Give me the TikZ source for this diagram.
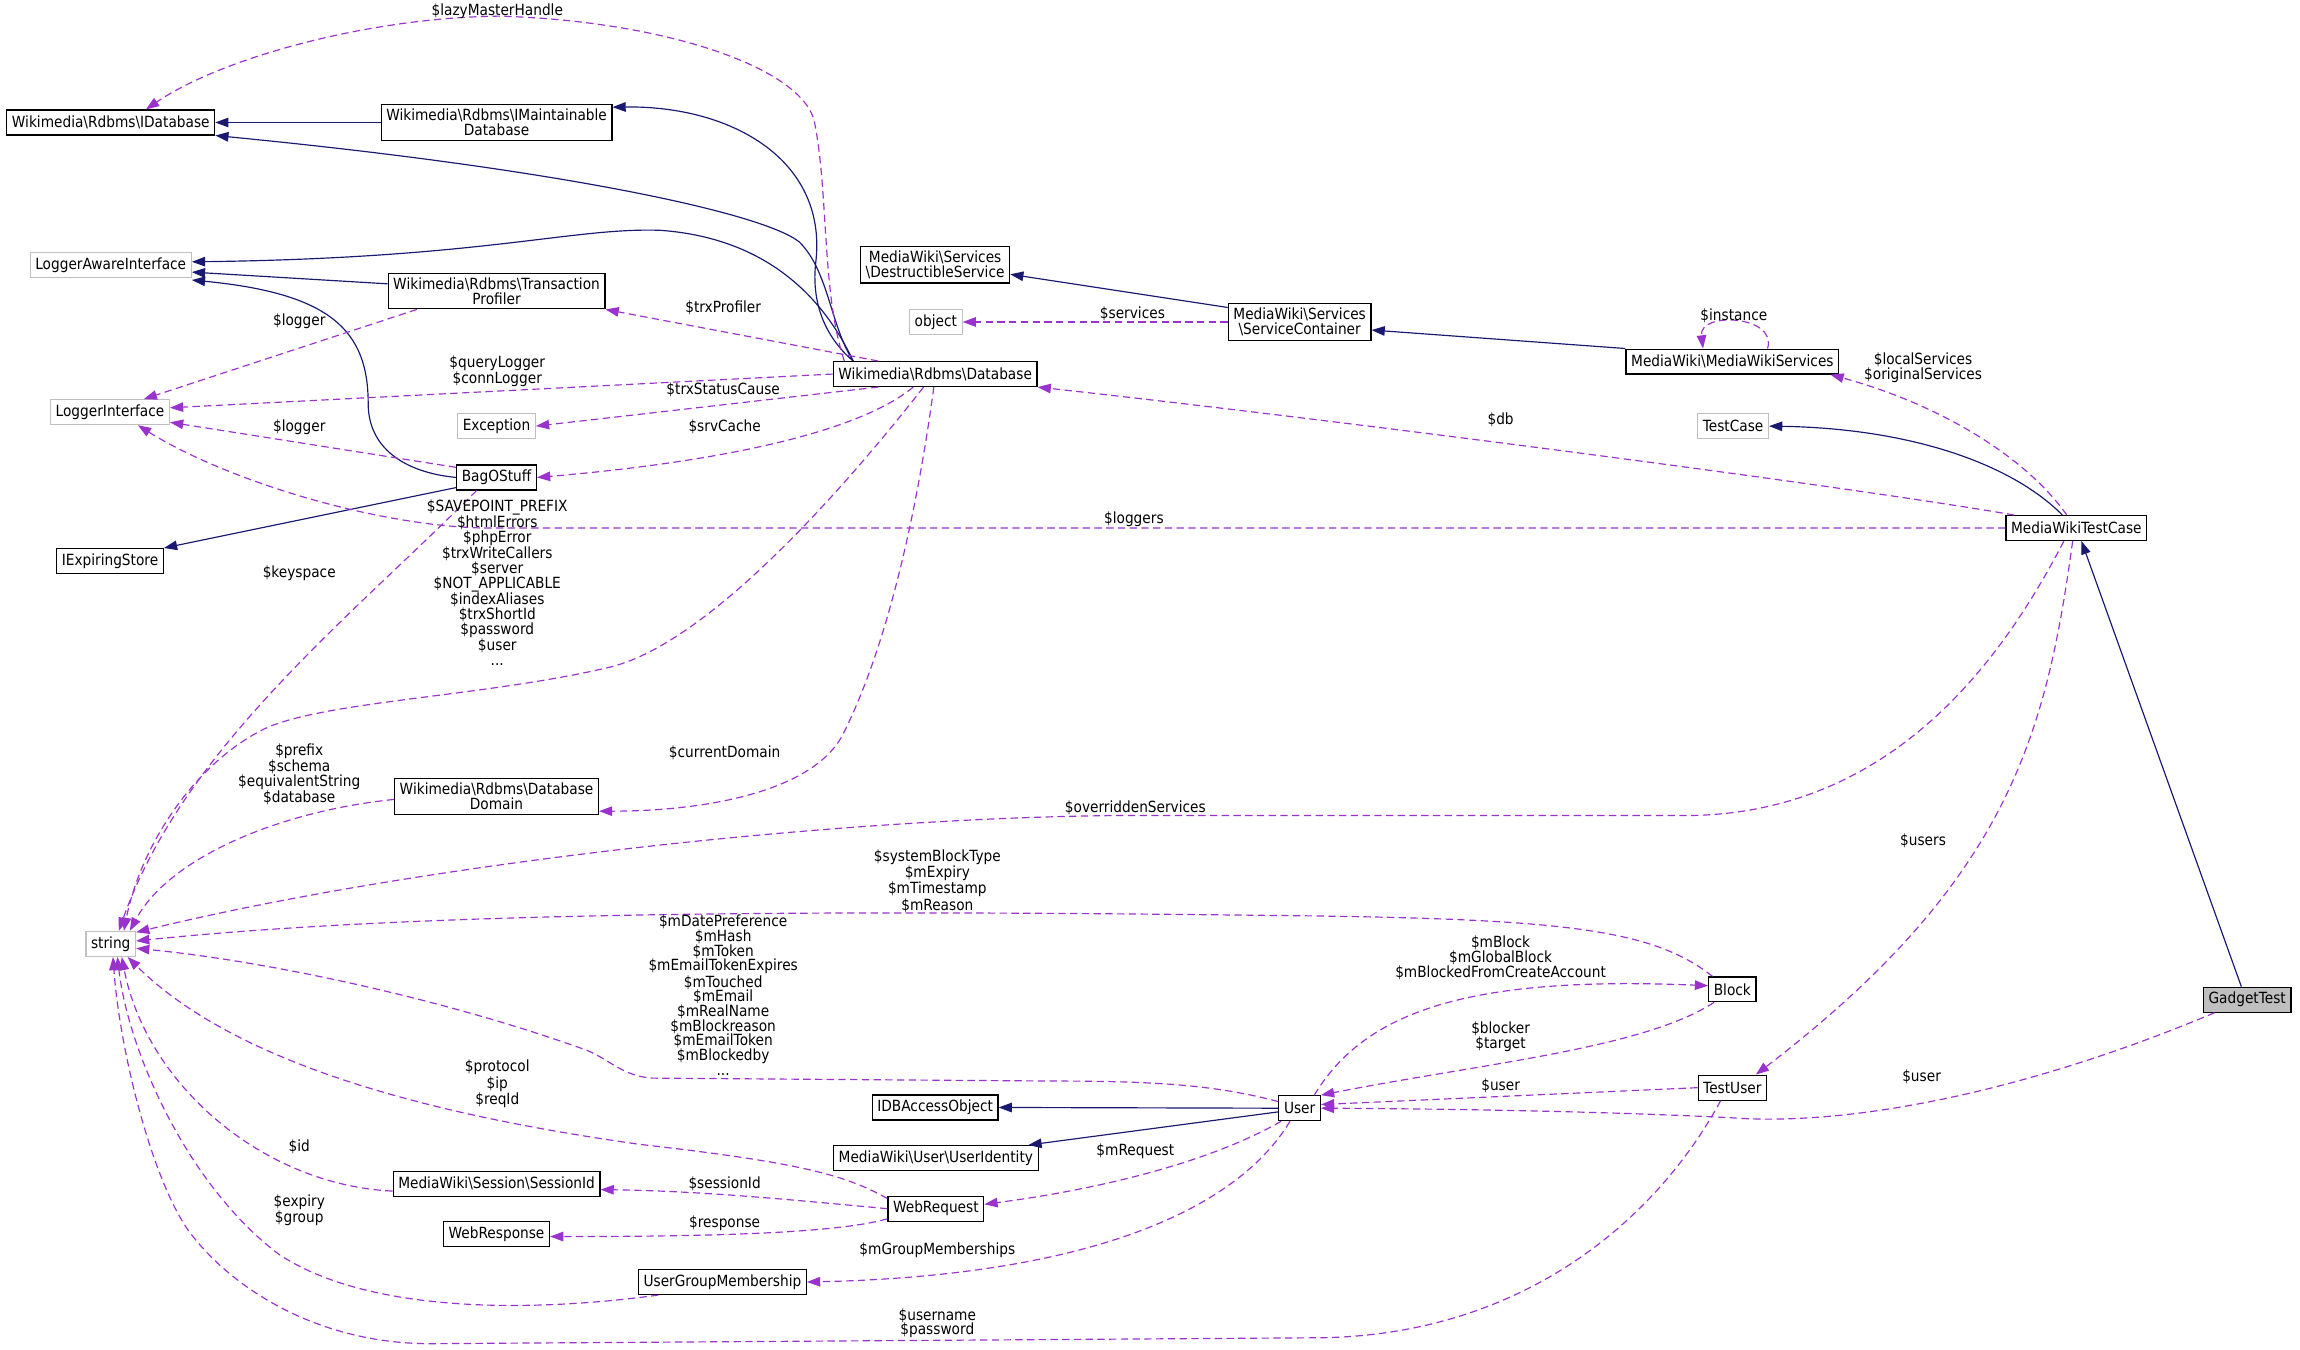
\documentclass[tikz,border=0pt]{standalone}
\usepackage{fontspec}
\setmainfont{DejaVu Sans}[FakeStretch=0.89]
\usetikzlibrary{arrows.meta}

\definecolor{inhblue}{HTML}{191970}
\definecolor{usepurple}{HTML}{9A32CD}
\definecolor{extgray}{HTML}{BFBFBF}

\newcommand{\bsl}{\textbackslash}

\tikzset{
  cls/.style={draw=black, fill=white, line width=0.8pt, inner xsep=3.5pt, inner ysep=3pt, minimum height=17pt, align=center},
  extcls/.style={cls, draw=extgray},
  focus/.style={cls, fill=extgray},
  lbl/.style={inner sep=0pt, align=center},
  inh/.style={draw=inhblue, line width=0.8pt, -{Triangle[length=9pt,width=6.5pt]}},
  uses/.style={draw=usepurple, line width=0.8pt, dash pattern=on 5pt off 3pt, -{Triangle[length=9pt,width=6.5pt]}}
}

\begin{document}
\begin{tikzpicture}[x=1pt,y=-1pt,font=\fontsize{10.5pt}{10pt}\selectfont]
\useasboundingbox (0,0) rectangle (1568,920);

% Classes
\node[cls] (idatabase) at (75.5,83.5) {Wikimedia\bsl Rdbms\bsl IDatabase};
\node[cls] (imaint) at (338.5,83.5) {Wikimedia\bsl Rdbms\bsl IMaintainable\\Database};
\node[extcls] (loggeraware) at (75.5,180.5) {LoggerAwareInterface};
\node[cls] (trxprofiler) at (338.5,198.5) {Wikimedia\bsl Rdbms\bsl Transaction\\Profiler};
\node[extcls] (loggeriface) at (75,281) {LoggerInterface};
\node[extcls] (exception) at (338.5,290.5) {Exception};
\node[cls] (bagostuff) at (338.5,325.5) {BagOStuff};
\node[cls] (iexpiring) at (75,382.5) {IExpiringStore};
\node[cls] (destructible) at (637.5,180.5) {MediaWiki\bsl Services\\\bsl DestructibleService};
\node[extcls] (object) at (638,219.5) {object};
\node[cls] (servicecont) at (886,219.5) {MediaWiki\bsl Services\\\bsl ServiceContainer};
\node[cls] (database) at (637.5,255) {Wikimedia\bsl Rdbms\bsl Database};
\node[cls] (mwservices) at (1181,246.5) {MediaWiki\bsl MediaWikiServices};
\node[extcls] (testcase) at (1181.5,290.5) {TestCase};
\node[cls] (mwtestcase) at (1415.5,360) {MediaWikiTestCase};
\node[cls] (dbdomain) at (338.5,543) {Wikimedia\bsl Rdbms\bsl Database\\Domain};
\node[extcls] (string) at (75.5,643.5) {string};
\node[cls] (block) at (1181,674.5) {Block};
\node[focus] (gadgettest) at (1532,681.5) {GadgetTest};
\node[cls] (idbaccess) at (637.5,755) {IDBAccessObject};
\node[cls] (user) at (886,755.5) {User};
\node[cls] (testuser) at (1181,741.5) {TestUser};
\node[cls] (useridentity) at (638,789.5) {MediaWiki\bsl User\bsl UserIdentity};
\node[cls] (sessionid) at (338.5,807) {MediaWiki\bsl Session\bsl SessionId};
\node[cls] (webrequest) at (638,824) {WebRequest};
\node[cls] (webresponse) at (338.5,841.5) {WebResponse};
\node[cls] (ugm) at (492.5,874) {UserGroupMembership};

% Inheritance
\draw[inh] (imaint.west) -- (idatabase.east);
\draw[inh] ([xshift=14pt]database.north west) .. controls (566,222) and (565,185) .. (545,165)
  .. controls (520,145) and (380,115) .. (idatabase.south east);
\draw[inh] ([xshift=14pt]database.north west) .. controls (565,232) and (553,210) .. (556,180)
  .. controls (565,110) and (500,72) .. ([yshift=-2pt]imaint.north east);
\draw[inh] ([xshift=14pt]database.north west) .. controls (560,200) and (520,162) .. (450,157)
  .. controls (390,155) and (330,176) .. ([yshift=2pt]loggeraware.east);
\draw[inh] ([yshift=5pt]trxprofiler.west) -- ([yshift=-5pt]loggeraware.east);
\draw[inh] (bagostuff.west) .. controls (275,322) and (251,305) .. (251,275)
  .. controls (251,225) and (225,200) .. ([yshift=-1.5pt]loggeraware.south east);
\draw[inh] ([yshift=2pt]bagostuff.south west) -- (iexpiring.north east);
\draw[inh] ([yshift=-3pt]servicecont.north west) -- ([yshift=-6.5pt]destructible.east);
\draw[inh] (mwservices.north west) -- ([yshift=-5.5pt]servicecont.east);
\draw[inh] ([xshift=-9.5pt]mwtestcase.north) .. controls (1370,315) and (1300,292) .. (testcase.east);
\draw[inh] ([xshift=-4pt]gadgettest.north) -- ([xshift=3.5pt]mwtestcase.south);
\draw[inh] (user.west) -- (idbaccess.east);
\draw[inh] ([yshift=-2.5pt]user.west) -- ([xshift=-7pt]useridentity.north east);

% Members of Database
\draw[uses] ([xshift=8pt]database.north west) .. controls (560,200) and (565,130) .. (555,82)
  .. controls (545,45) and (450,14) .. (340,11)
  .. controls (250,12) and (150,40) .. ([xshift=24pt]idatabase.north);
\draw[uses] ([xshift=31pt]database.north west) -- (trxprofiler.south east);
\draw[uses] (database.west) -- ([yshift=3pt]loggeriface.east);
\draw[uses] ([xshift=31pt]database.south west) -- (exception.east);
\draw[uses] ([xshift=55pt]database.south west) .. controls (585,295) and (490,315) .. (bagostuff.east);
\draw[uses] ([xshift=62pt]database.south west) .. controls (570,340) and (480,440) .. (415,455)
  .. controls (330,475) and (220,478) .. (180,497)
  .. controls (130,522) and (95,580) .. ([xshift=9pt]string.north);
\draw[uses] ([xshift=69pt]database.south west) .. controls (625,350) and (605,440) .. (575,500)
  .. controls (555,540) and (480,553) .. ([yshift=-10pt]dbdomain.east);

% Members of the smaller classes
\draw[uses] ([xshift=20pt]trxprofiler.south west) -- ([xshift=23pt]loggeriface.north);
\draw[uses] ([yshift=-2pt]bagostuff.north west) -- ([yshift=2pt]loggeriface.south east);
\draw[uses] ([xshift=14pt]bagostuff.south west) .. controls (240,420) and (125,510) .. ([xshift=5.5pt]string.north);
\draw[uses] ([yshift=-2pt]dbdomain.west) .. controls (190,553) and (115,585) .. ([xshift=13pt]string.north);
\draw[uses] (servicecont.west) -- (object.east);
\draw[uses] ([xshift=24pt]mwservices.north) .. controls (1212,215) and (1158,212) .. ([xshift=-20pt]mwservices.north);

% Members of MediaWikiTestCase
\draw[uses] (mwtestcase.west) -- (330,360) .. controls (250,358) and (150,325) .. ([xshift=19pt]loggeriface.south);
\draw[uses] ([xshift=6pt]mwtestcase.north west) .. controls (1250,330) and (900,285) .. (database.south east);
\draw[uses] ([xshift=-6.5pt]mwtestcase.north) .. controls (1380,310) and (1320,275) .. ([xshift=-6pt]mwservices.south east);
\draw[uses] ([xshift=-8.5pt]mwtestcase.south) .. controls (1365,450) and (1290,555) .. (1150,556)
  -- (760,556) .. controls (560,558) and (280,590) .. ([yshift=-1pt]string.north east);
\draw[uses] ([xshift=-2.5pt]mwtestcase.south) .. controls (1395,500) and (1370,600) .. ([xshift=16pt]testuser.north);
\draw[uses] ([xshift=8pt]gadgettest.south west) .. controls (1380,745) and (1260,768) .. (1180,762)
  .. controls (1100,758) and (1000,756) .. (user.east);

% Members of User, Block and TestUser
\draw[uses] ([xshift=3pt]block.north west) .. controls (1125,632) and (1060,626) .. (860,624)
  .. controls (600,621) and (300,620) .. ([yshift=2pt]string.east);
\draw[uses] ([yshift=4.5pt]user.west) .. controls (830,740) and (790,737) .. (720,737) -- (445,735)
  .. controls (425,734) and (415,722) .. (400,716)
  .. controls (300,680) and (180,655) .. ([yshift=-3pt]string.east);
\draw[uses] ([xshift=10pt]user.north) .. controls (930,690) and (1000,665) .. ([yshift=2.5pt]block.west);
\draw[uses] ([xshift=4pt]block.south west) .. controls (1120,715) and (1010,725) .. (user.north east);
\draw[uses] (testuser.west) -- ([yshift=2.5pt]user.east);
\draw[uses] ([xshift=2pt]user.south west) .. controls (820,795) and (740,812) .. ([yshift=3pt]webrequest.east);
\draw[uses] ([xshift=8pt]user.south west) .. controls (840,830) and (730,870) .. (ugm.east);
\draw[uses] ([xshift=-8pt]testuser.south) .. controls (1130,830) and (1040,910) .. (900,912) -- (300,916)
  .. controls (220,918) and (160,880) .. (130,841)
  .. controls (105,808) and (82,720) .. ([xshift=1.5pt]string.south);

% Members of WebRequest and the rest
\draw[uses] ([yshift=-2pt]webrequest.north west) .. controls (575,800) and (540,792) .. (435,780)
  .. controls (330,765) and (170,735) .. ([xshift=11.5pt]string.south);
\draw[uses] (webrequest.west) .. controls (540,818) and (480,812) .. ([yshift=-4pt]sessionid.east);
\draw[uses] ([yshift=2pt]webrequest.south west) .. controls (570,841) and (480,843) .. ([yshift=-1.5pt]webresponse.east);
\draw[uses] ([yshift=-5pt]sessionid.west) .. controls (180,808) and (100,740) .. ([xshift=7.5pt]string.south);
\draw[uses] ([xshift=14pt]ugm.south west) .. controls (360,895) and (250,895) .. (190,855)
  .. controls (130,810) and (88,720) .. ([xshift=4.5pt]string.south);

% Edge labels
\node[lbl] (lazy) at (339,8) {\$lazyMasterHandle};
\node[lbl] (trxprof) at (493,210) {\$trxProfiler};
\node[lbl] (qlog) at (339,253) {\$queryLogger\\\$connLogger};
\node[lbl] (tlog) at (204,219) {\$logger};
\node[lbl] (trxcause) at (493,266) {\$trxStatusCause};
\node[lbl] (srvcache) at (494,291) {\$srvCache};
\node[lbl] (blog) at (204,291) {\$logger};
\node[lbl] (loggers) at (773,354) {\$loggers};
\node[lbl] (keyspace) at (204,391) {\$keyspace};
\node[lbl] (savepoint) at (339,397) {\$SAVEPOINT\_PREFIX\\\$htmlErrors\\\$phpError\\\$trxWriteCallers\\\$server\\\$NOT\_APPLICABLE\\\$indexAliases\\\$trxShortId\\\$password\\\$user\\...};
\node[lbl] (curdomain) at (494,513) {\$currentDomain};
\node[lbl] (prefix) at (204,528) {\$prefix\\\$schema\\\$equivalentString\\\$database};
\node[lbl] (overridden) at (774,551) {\$overriddenServices};
\node[lbl] (sysblock) at (639,600.5) {\$systemBlockType\\\$mExpiry\\\$mTimestamp\\\$mReason};
\node[lbl] (datepref) at (493,678.5) {\$mDatePreference\\\$mHash\\\$mToken\\\$mEmailTokenExpires\\\$mTouched\\\$mEmail\\\$mRealName\\\$mBlockreason\\\$mEmailToken\\\$mBlockedby\\...};
\node[lbl] (mblock) at (1023,653) {\$mBlock\\\$mGlobalBlock\\\$mBlockedFromCreateAccount};
\node[lbl] (blocker) at (1023,707) {\$blocker\\\$target};
\node[lbl] (tuser) at (1023,740) {\$user};
\node[lbl] (guser) at (1310,734) {\$user};
\node[lbl] (users) at (1311,573) {\$users};
\node[lbl] (db) at (1023,286) {\$db};
\node[lbl] (localsvc) at (1311,250.5) {\$localServices\\\$originalServices};
\node[lbl] (instance) at (1182,215) {\$instance};
\node[lbl] (services) at (772,214) {\$services};
\node[lbl] (protocol) at (339,739) {\$protocol\\\$ip\\\$reqId};
\node[lbl] (id) at (204,782) {\$id};
\node[lbl] (expiry) at (204,825) {\$expiry\\\$group};
\node[lbl] (sessid) at (494,807) {\$sessionId};
\node[lbl] (response) at (494,834) {\$response};
\node[lbl] (mrequest) at (774,785) {\$mRequest};
\node[lbl] (groupmem) at (639,852) {\$mGroupMemberships};
\node[lbl] (username) at (639,902) {\$username\\\$password};

\end{tikzpicture}
\end{document}
